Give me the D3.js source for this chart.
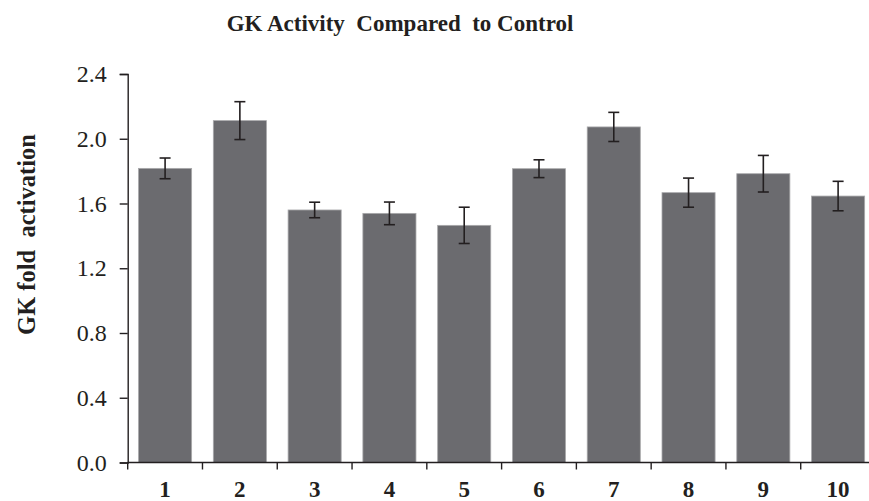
<!DOCTYPE html>
<html>
<head>
<meta charset="utf-8">
<script src="https://cdn.jsdelivr.net/npm/d3@7"></script>
<style>
  html, body { margin: 0; padding: 0; background: #fff; }
  svg { display: block; }
  text { font-family: "Liberation Serif", "Times New Roman", serif; fill: #231f20; }
</style>
</head>
<body>
<svg id="chart" width="869" height="501"></svg>
<script>
const categories = ["1", "2", "3", "4", "5", "6", "7", "8", "9", "10"];
const values = [1.817, 2.112, 1.560, 1.539, 1.465, 1.815, 2.073, 1.667, 1.784, 1.646];
const errors = [0.064, 0.117, 0.048, 0.070, 0.112, 0.055, 0.090, 0.090, 0.113, 0.091];
const yTicks = [0.0, 0.4, 0.8, 1.2, 1.6, 2.0, 2.4];
const titleText = "GK Activity  Compared  to Control";
const yLabelText = "GK fold  activation";

(function () {
const svg = d3.select("#chart");
const ink = "#231f20";
const plotLeft = 127.7, plotRight = 875.5, plotTop = 74, plotBottom = 462.5;

const x = d3.scaleBand().domain(categories).range([plotLeft, plotRight])
  .paddingInner(0.29).paddingOuter(0.145);
const y = d3.scaleLinear().domain([0, 2.4]).range([plotBottom, plotTop]);

// bars
svg.append("g").selectAll("rect").data(categories).join("rect")
  .attr("x", d => x(d))
  .attr("width", x.bandwidth())
  .attr("y", (d, i) => y(values[i]))
  .attr("height", (d, i) => y(0) - y(values[i]))
  .attr("fill", "#6b6b6f")
  .attr("stroke", "#a9a9ab")
  .attr("stroke-width", 0.8);

// error bars
const eg = svg.append("g").attr("stroke", ink).attr("stroke-width", 1.6);
categories.forEach((d, i) => {
  const cx = x(d) + x.bandwidth() / 2;
  const y1 = y(values[i] + errors[i]), y2 = y(values[i] - errors[i]);
  eg.append("line").attr("x1", cx).attr("x2", cx).attr("y1", y1).attr("y2", y2);
  eg.append("line").attr("x1", cx - 5.5).attr("x2", cx + 5.5).attr("y1", y1).attr("y2", y1);
  eg.append("line").attr("x1", cx - 5.5).attr("x2", cx + 5.5).attr("y1", y2).attr("y2", y2);
});

// y axis
const yAxis = d3.axisLeft(y).tickValues(yTicks).tickFormat(d3.format(".1f"))
  .tickSize(8).tickPadding(13);
const gy = svg.append("g").attr("transform", `translate(${plotLeft},0)`).call(yAxis);
gy.select(".domain").attr("stroke", ink).attr("stroke-width", 1.4);
gy.selectAll(".tick line").attr("stroke", ink).attr("stroke-width", 1.4);
gy.selectAll(".tick text").style("font-size", "24px").attr("fill", ink)
  .style("font-family", "'Liberation Serif', serif");

// x axis line and boundary ticks
const step = x.step();
const gx = svg.append("g");
gx.append("line").attr("x1", plotLeft).attr("x2", plotRight).attr("y1", y(0)).attr("y2", y(0))
  .attr("stroke", ink).attr("stroke-width", 1.4);
const bounds = categories.map(d => x(d) - step * 0.145).concat([plotRight]);
gx.selectAll("line.bt").data(bounds).join("line").attr("class", "bt")
  .attr("x1", d => d).attr("x2", d => d)
  .attr("y1", y(0)).attr("y2", y(0) + 7)
  .attr("stroke", ink).attr("stroke-width", 1.4);
gx.selectAll("text").data(categories).join("text")
  .attr("x", d => x(d) + x.bandwidth() / 2)
  .attr("y", 497)
  .attr("text-anchor", "middle")
  .style("font-size", "23px").style("font-weight", "bold")
  .text(d => d);

// title
svg.append("text").attr("x", 400).attr("y", 31).attr("text-anchor", "middle")
  .style("font-size", "23px").style("font-weight", "bold")
  .style("white-space", "pre")
  .text(titleText);

// y label
svg.append("text")
  .attr("transform", `translate(35,234.5) rotate(-90)`)
  .attr("text-anchor", "middle")
  .style("font-size", "24.5px").style("font-weight", "bold")
  .style("white-space", "pre")
  .text(yLabelText);
})();
</script>
</body>
</html>
